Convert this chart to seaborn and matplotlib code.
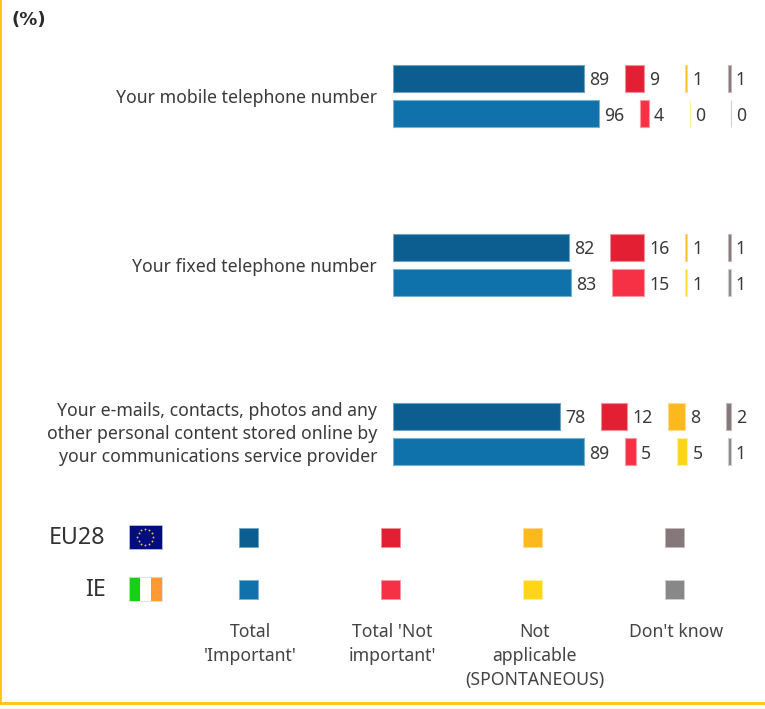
import numpy as np
import pandas as pd
import matplotlib
matplotlib.use("Agg")
import matplotlib.pyplot as plt
from matplotlib.patches import Rectangle
import seaborn as sns

questions = ["Your mobile telephone number",
             "Your fixed telephone number",
             "Your e-mails, contacts, photos and any\nother personal content stored online by\nyour communications service provider"]
segments = ["Total\n'Important'", "Total 'Not\nimportant'", "Not\napplicable\n(SPONTANEOUS)", "Don't know"]
eu28 = [[89, 82, 78], [9, 16, 12], [1, 1, 8], [1, 1, 2]]
ie = [[96, 83, 89], [4, 15, 5], [0, 1, 5], [0, 1, 1]]
eu_colors = ["#0B5E8F", "#E31F33", "#FDB81E", "#85777A"]
ie_colors = ["#0F72AB", "#F63146", "#FFD617", "#888888"]
eu_edges = ["#6FA3C4", "#F28E98", "#FEDB8E", "#C2BBBC"]
ie_edges = ["#79B0D2", "#FA98A2", "#FFEFA0", "#CFCFCF"]
SPACER = 19.1

W, H = 765, 709
sns.set_theme(style="white")
plt.rcParams["font.family"] = ["Noto Sans", "DejaVu Sans"]
fig = plt.figure(figsize=(W / 100, H / 100), dpi=100, facecolor="white")

px_per_unit = 2.146
x0 = 393
ax = fig.add_axes([x0 / W, 0, 1 - x0 / W, 1])
ax.patch.set_alpha(0)
y_first, y_step, pair = 96.0, 169.0, 17.75

for values, colors, edges, sign in [(eu28, eu_colors, eu_edges, -1), (ie, ie_colors, ie_edges, 1)]:
    left = np.zeros(3)
    for seg, vals in enumerate(values):
        sub = pd.DataFrame({"pos": np.arange(3) + sign * pair / y_step, "value": vals})
        sns.barplot(data=sub, x="value", y="pos", orient="y", native_scale=True,
                    left=left.copy(), color=colors[seg], saturation=1, width=27 / y_step,
                    edgecolor=edges[seg], linewidth=0.8, ax=ax, errorbar=None, legend=False)
        anns = ax.bar_label(ax.containers[-1], labels=[str(v) for v in vals], padding=3.7,
                            fontsize=12.7, color="#3a3a3a")
        for t in anns:
            t.set_verticalalignment("center_baseline")
        left += np.array(vals) + SPACER

ax.set_xlim(0, (W - x0) / px_per_unit)
ax.set_ylim((H - y_first) / y_step, -y_first / y_step)
ax.set_yticks([0, 1, 1.975])
ax.set_yticklabels(questions, fontsize=12.7, color="#3a3a3a", linespacing=1.36)
ax.tick_params(axis="y", length=0, pad=11.5)
ax.set_xticks([])
ax.set_xlabel("")
ax.set_ylabel("")
sns.despine(ax=ax, left=True, bottom=True)

# Overlay in pixel coordinates for legend, flags and frame
ov = fig.add_axes([0, 0, 1, 1], zorder=5)
ov.set_xlim(0, W)
ov.set_ylim(H, 0)
ov.axis("off")
ov.patch.set_alpha(0)

gold = "#FFC61E"
ov.add_patch(Rectangle((0, 0), 1.6, 704, color=gold, lw=0))
ov.add_patch(Rectangle((0, 702), W, 2.7, color=gold, lw=0))
ov.text(12, 20, "(%)", fontsize=13, fontweight="bold", family="DejaVu Sans", color="#2a2a2a", va="center", ha="left")

ov.text(105.5, 538, "EU28", fontsize=16.7, color="#333333", ha="right", va="center")
ov.text(106, 590, "IE", fontsize=16.7, color="#333333", ha="right", va="center")

# EU flag
ov.add_patch(Rectangle((129, 525), 33, 24, facecolor="#000C80", edgecolor="#B8BCD8", lw=0.6))
ang = np.deg2rad(np.arange(0, 360, 30))
ov.scatter(145.5 + 8 * np.cos(ang), 537 + 8 * np.sin(ang), s=1.8, color="#E8D020", lw=0, zorder=3)
# IE flag
for i, c in enumerate(["#15D113", "#FFFFFF", "#FF9933"]):
    ov.add_patch(Rectangle((129 + i * 11, 577), 11, 24, facecolor=c, lw=0))
ov.add_patch(Rectangle((129, 577), 33, 24, facecolor="none", edgecolor="#DDDDDD", lw=0.6))

sq_x = [248.5, 390.5, 532.5, 675]
lab_x = [250.5, 392, 535, 676]
for i in range(4):
    ov.add_patch(Rectangle((sq_x[i] - 9.5, 528), 19, 19, facecolor=eu_colors[i], edgecolor=eu_edges[i], lw=0.6))
    ov.add_patch(Rectangle((sq_x[i] - 9.5, 580), 19, 19, facecolor=ie_colors[i], edgecolor=ie_edges[i], lw=0.6))
    ov.text(lab_x[i], 623, segments[i], fontsize=12.7, color="#444444", ha="center", va="top", linespacing=1.42)

fig.savefig("out.png", dpi=100, facecolor="white")
